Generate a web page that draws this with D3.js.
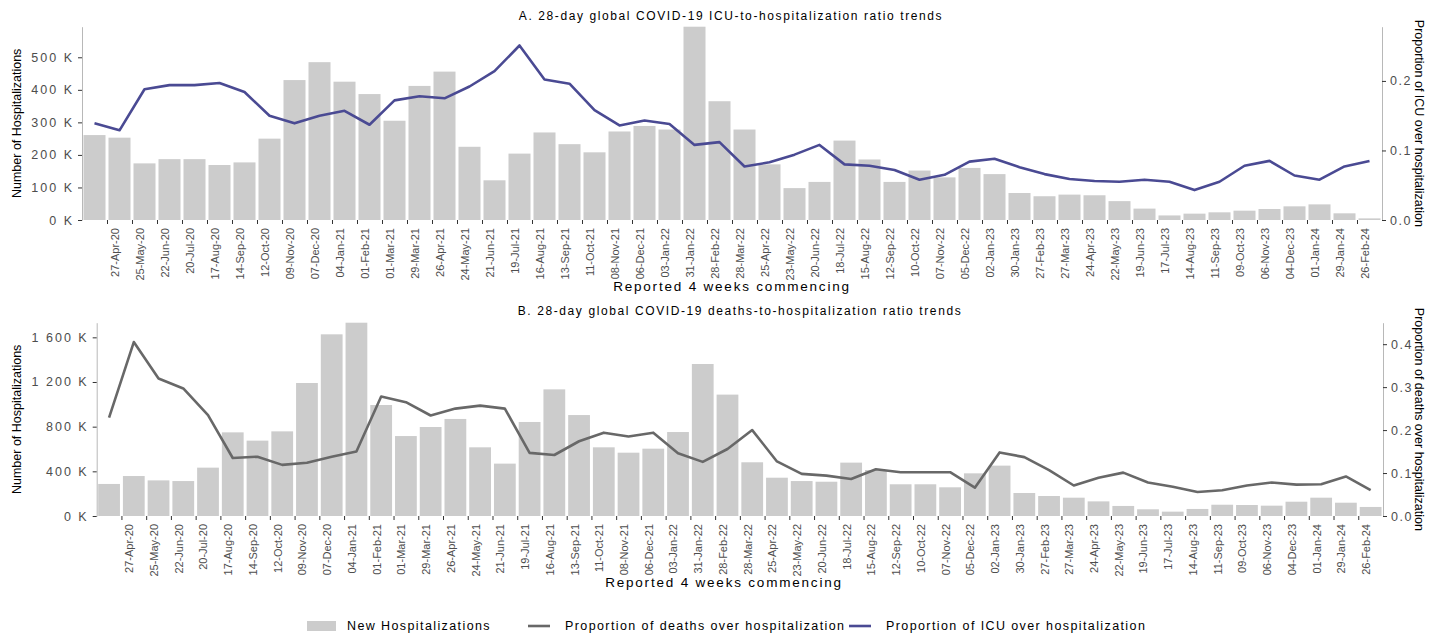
<!DOCTYPE html>
<html>
<head>
<meta charset="utf-8">
<script src="https://cdn.jsdelivr.net/npm/d3@7"></script>
<style>
  body { margin: 0; background: #fff; }
  text { font-family: "Liberation Sans", Arial, sans-serif; }
</style>
</head>
<body>
<svg id="chart" width="1444" height="637"></svg>
<script>
// 4-week periods (commencing date)
const periods = ["30-Mar-20","27-Apr-20","25-May-20","22-Jun-20","20-Jul-20","17-Aug-20","14-Sep-20","12-Oct-20",
  "09-Nov-20","07-Dec-20","04-Jan-21","01-Feb-21","01-Mar-21","29-Mar-21","26-Apr-21","24-May-21","21-Jun-21",
  "19-Jul-21","16-Aug-21","13-Sep-21","11-Oct-21","08-Nov-21","06-Dec-21","03-Jan-22","31-Jan-22","28-Feb-22",
  "28-Mar-22","25-Apr-22","23-May-22","20-Jun-22","18-Jul-22","15-Aug-22","12-Sep-22","10-Oct-22","07-Nov-22",
  "05-Dec-22","02-Jan-23","30-Jan-23","27-Feb-23","27-Mar-23","24-Apr-23","22-May-23","19-Jun-23","17-Jul-23",
  "14-Aug-23","11-Sep-23","09-Oct-23","06-Nov-23","04-Dec-23","01-Jan-24","29-Jan-24","26-Feb-24"];

// labelled ticks on the x axis
const tickLabels = periods.slice(1);

// panel A: new hospitalizations and ICU proportion
const hospA = [261000,253000,174000,187000,187000,169000,177000,250000,430000,485000,425000,387000,305000,
  412000,456000,225000,122000,204000,269000,233000,208000,272000,289000,278000,594000,365000,278000,171000,
  98000,117000,244000,186000,117000,152000,131000,160000,141000,83000,73000,78000,76000,58000,35000,14000,
  19500,23600,28700,33800,42000,48000,20500,5000];
const icuRatio = [0.139,0.129,0.188,0.194,0.194,0.197,0.184,0.150,0.139,0.150,0.157,0.137,0.172,0.178,0.175,
  0.192,0.214,0.251,0.202,0.196,0.158,0.136,0.143,0.138,0.108,0.112,0.077,0.083,0.094,0.108,0.080,0.078,0.072,
  0.058,0.065,0.084,0.088,0.076,0.066,0.059,0.056,0.055,0.058,0.055,0.043,0.055,0.078,0.085,0.064,0.058,0.077,0.085];

// panel B: new hospitalizations and deaths proportion
const hospB = [287000,358000,319000,313000,433000,749000,675000,758000,1191000,1627000,1731000,994000,716000,
  797000,869000,615000,469000,842000,1134000,904000,615000,567000,603000,752000,1361000,1087000,481000,343000,
  313000,307000,478000,412000,284000,284000,257000,382000,451000,206000,179000,164000,131000,90000,60000,39000,
  63000,101000,98500,92500,128000,164000,119000,81000];
const deathRatio = [0.229,0.405,0.320,0.297,0.235,0.135,0.138,0.119,0.124,0.138,0.150,0.278,0.265,0.234,0.250,
  0.257,0.250,0.147,0.142,0.174,0.194,0.185,0.194,0.146,0.126,0.156,0.200,0.127,0.098,0.094,0.086,0.109,0.102,
  0.102,0.102,0.066,0.148,0.137,0.107,0.071,0.089,0.101,0.078,0.068,0.056,0.060,0.071,0.078,0.073,0.074,0.092,0.060];

const ticksA = [0,100000,200000,300000,400000,500000];
const ticksB = [0,400000,800000,1200000,1600000];
const rightTicksA = [0,0.1,0.2];
const rightTicksB = [0,0.1,0.2,0.3,0.4];

const legendLabels = ["New Hospitalizations", "Proportion of deaths over hospitalization", "Proportion of ICU over hospitalization"];

const parse = d3.timeParse("%d-%b-%y");
const fmtDate = d3.timeFormat("%d-%b-%y");
const dates = periods.map(parse);

const barColor = "#cccccc", deathColor = "#686868", icuColor = "#4a4a93";
const svg = d3.select("#chart");

const kFormat = d => d3.format(",")(d / 1000).replace(/,/g, " ") + " K";

function panel(cfg) {
  const x = d3.scaleTime()
    .domain([dates[0], d3.timeDay.offset(dates[dates.length - 1], 28)])
    .range([cfg.left, cfg.right]);
  const y = d3.scaleLinear().domain([0, d3.max(cfg.hosp)]).range([cfg.bottom, cfg.top]);
  const y2 = d3.scaleLinear().domain([0, cfg.rightMax]).range([cfg.bottom, cfg.top]);

  const g = svg.append("g");
  const step = x(dates[1]) - x(dates[0]);
  const bw = step * 0.88;

  g.selectAll("rect.bar")
    .data(cfg.hosp)
    .enter()
    .append("rect")
    .attr("class", "bar")
    .attr("x", (d, i) => x(d3.timeDay.offset(dates[i], 14)) - bw / 2)
    .attr("width", bw)
    .attr("y", d => y(d))
    .attr("height", d => cfg.bottom - y(d))
    .attr("fill", barColor);

  const line = d3.line()
    .x((d, i) => x(d3.timeDay.offset(dates[i], 14)))
    .y(d => y2(d));

  g.append("path")
    .datum(cfg.ratio)
    .attr("d", line)
    .attr("fill", "none")
    .attr("stroke", cfg.lineColor)
    .attr("stroke-width", 2.6)
    .attr("stroke-linejoin", "round");

  // left axis
  const ga = g.append("g")
    .attr("transform", `translate(${cfg.left},0)`)
    .call(d3.axisLeft(y).tickValues(cfg.ticks).tickFormat(kFormat).tickSize(4).tickSizeOuter(0));
  ga.select(".domain").attr("stroke", "#b8b8b8");
  ga.selectAll(".tick line").attr("stroke", "#333");
  ga.selectAll(".tick text")
    .attr("x", -8)
    .attr("fill", "#4d4d4d")
    .style("font-size", "12.5px")
    .style("letter-spacing", "2px");

  // right axis
  const gr = g.append("g")
    .attr("transform", `translate(${cfg.right},0)`)
    .call(d3.axisRight(y2).tickValues(cfg.rightTicks).tickFormat(d3.format(".1f")).tickSize(4).tickSizeOuter(0));
  gr.select(".domain").attr("stroke", "#b8b8b8");
  gr.selectAll(".tick line").attr("stroke", "#333");
  gr.selectAll(".tick text")
    .attr("x", 8)
    .attr("fill", "#4d4d4d")
    .style("font-size", "12.5px")
    .style("letter-spacing", "1.6px");

  // bottom axis
  const gx = g.append("g")
    .attr("transform", `translate(0,${cfg.bottom})`)
    .call(d3.axisBottom(x).tickValues(tickLabels.map(parse)).tickFormat(fmtDate).tickSize(4).tickSizeOuter(0));
  gx.select(".domain").remove();
  gx.selectAll(".tick line").attr("stroke", "#333");
  gx.selectAll(".tick text")
    .attr("transform", "rotate(-90)")
    .attr("text-anchor", "end")
    .attr("x", -8)
    .attr("y", 7.5)
    .attr("dy", "0.35em")
    .attr("fill", "#4d4d4d")
    .style("font-size", "11px");

  const midY = (cfg.top + cfg.bottom) / 2;

  g.append("text")
    .attr("transform", `translate(17,${midY}) rotate(-90)`)
    .attr("text-anchor", "middle")
    .attr("dy", "0.35em")
    .style("font-size", "12.5px")
    .text("Number of Hospitalizations");

  g.append("text")
    .attr("transform", `translate(1419,${midY}) rotate(90)`)
    .attr("text-anchor", "middle")
    .attr("dy", "0.35em")
    .style("font-size", "12.5px")
    .text(cfg.rightTitle);

  g.append("text")
    .attr("x", cfg.titleX)
    .attr("y", cfg.titleY)
    .attr("text-anchor", "middle")
    .style("font-size", "12px")
    .style("letter-spacing", "1.6px")
    .text(cfg.title);

  g.append("text")
    .attr("x", cfg.xTitleX)
    .attr("y", cfg.xTitleY)
    .attr("text-anchor", "middle")
    .style("font-size", "13.5px")
    .style("letter-spacing", "1.8px")
    .text("Reported 4 weeks commencing");
}

panel({
  left: 82, right: 1382, top: 26.7, bottom: 220,
  hosp: hospA, ratio: icuRatio, rightMax: 0.278, lineColor: icuColor,
  ticks: ticksA, rightTicks: rightTicksA,
  rightTitle: "Proportion of ICU over hospitalization",
  title: "A. 28-day global COVID-19 ICU-to-hospitalization ratio trends",
  titleX: 731, titleY: 20, xTitleX: 732, xTitleY: 291
});

panel({
  left: 96.7, right: 1383, top: 322.7, bottom: 516,
  hosp: hospB, ratio: deathRatio, rightMax: 0.45, lineColor: deathColor,
  ticks: ticksB, rightTicks: rightTicksB,
  rightTitle: "Proportion of deaths over hospitalization",
  title: "B. 28-day global COVID-19 deaths-to-hospitalization ratio trends",
  titleX: 740, titleY: 315, xTitleX: 724, xTitleY: 587
});

// legend
const legend = svg.append("g").attr("transform", "translate(0,626)");
const legendX = [307, 528, 849];
const items = legend.selectAll("g.item")
  .data(legendLabels)
  .enter()
  .append("g")
  .attr("class", "item")
  .attr("transform", (d, i) => `translate(${legendX[i]},0)`);

items.filter((d, i) => i === 0)
  .append("rect")
  .attr("x", 0).attr("y", -5).attr("width", 29).attr("height", 10)
  .attr("fill", barColor);

items.filter((d, i) => i > 0)
  .append("line")
  .attr("x1", 0).attr("x2", 22)
  .attr("stroke", (d, i) => i === 0 ? deathColor : icuColor)
  .attr("stroke-width", 2.6);

items.append("text")
  .attr("x", (d, i) => i === 0 ? 40 : 37)
  .attr("dy", "0.35em")
  .style("font-size", "12.5px")
  .style("letter-spacing", "1.4px")
  .text(d => d);
</script>
</body>
</html>
